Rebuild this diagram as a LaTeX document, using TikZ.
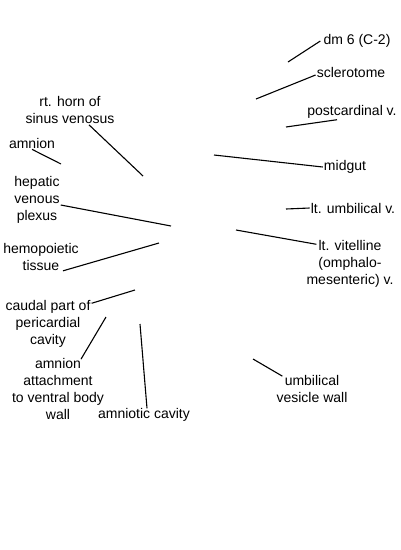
\documentclass[tikz,border=0pt]{standalone}
\usepackage{fontspec}
\setmainfont{Liberation Sans}
\usepackage{tikz}
\tikzset{
  lbl/.style={align=center,inner sep=1pt,font=\fontsize{14}{17}\selectfont},
  ld/.style={line width=1.1pt,black}
}
\begin{document}
\begin{tikzpicture}[x=1pt,y=-1pt]
\useasboundingbox (0,0) rectangle (400,550);
% labels, right side
\node[lbl] (dm) at (357,41) {dm 6 (C-2)};
\node[lbl] (scl) at (351,72) {sclerotome};
\node[lbl] (pcv) at (352,112) {postcardinal v.};
\node[lbl] (mid) at (345,167) {midgut};
\node[lbl] (lum) at (353,208) {lt. umbilical v.};
\node[lbl] (lvit) at (350,264) {lt. vitelline\\(omphalo-\\mesenteric) v.};
\node[lbl] (umb) at (312,389) {umbilical\\vesicle wall};
% labels, left side
\node[lbl] (rth) at (70,110) {rt. horn of\\sinus venosus};
\node[lbl] (amn) at (32,143) {amnion};
\node[lbl] (hvp) at (37,200) {hepatic\\venous\\plexus};
\node[lbl] (hem) at (41,257) {hemopoietic\\tissue};
\node[lbl] (cpc) at (48,324) {caudal part of\\pericardial\\cavity};
\node[lbl] (att) at (58,389) {amnion\\attachment\\to ventral body\\wall};
\node[lbl] (cav) at (144,415) {amniotic cavity};
% free ends of the leaders
\coordinate (pdm) at (288,62);
\coordinate (pscl) at (256,99);
\coordinate (ppcv) at (286,127);
\coordinate (pmid) at (214,155);
\coordinate (plum) at (286,209);
\coordinate (plvit) at (236,230);
\coordinate (pumb) at (253,359);
\coordinate (prth) at (143,176);
\coordinate (pamn) at (61,164);
\coordinate (phvp) at (171,226);
\coordinate (phem) at (159,243);
\coordinate (pcpc) at (135,290);
\coordinate (patt) at (106,317);
\coordinate (pcav) at (140,324);
% leaders
\draw[ld] ([xshift=-2pt]dm.west) -- (pdm);
\draw[ld] ([yshift=-3pt]scl.west) -- (pscl);
\draw[ld] ([xshift=-15pt]pcv.south) -- (ppcv);
\draw[ld] (mid.west) -- (pmid);
\draw[ld] (lum.west) -- (plum);
\draw[ld] ([xshift=11pt,yshift=-5pt]lvit.north west) -- (plvit);
\draw[ld] ([xshift=7pt,yshift=-2pt]umb.north west) -- (pumb);
\draw[ld] ([xshift=19pt]rth.south) -- (prth);
\draw[ld] (amn.south) -- (pamn);
\draw[ld] ([yshift=-5pt]hvp.east) -- (phvp);
\draw[ld] ([xshift=-17pt,yshift=1pt]hem.south east) -- (phem);
\draw[ld] ([yshift=-4pt]cpc.north east) -- (pcpc);
\draw[ld] ([xshift=23pt,yshift=-2pt]att.north) -- (patt);
\draw[ld] ([xshift=3pt,yshift=-1pt]cav.north) -- (pcav);
\end{tikzpicture}
\end{document}
